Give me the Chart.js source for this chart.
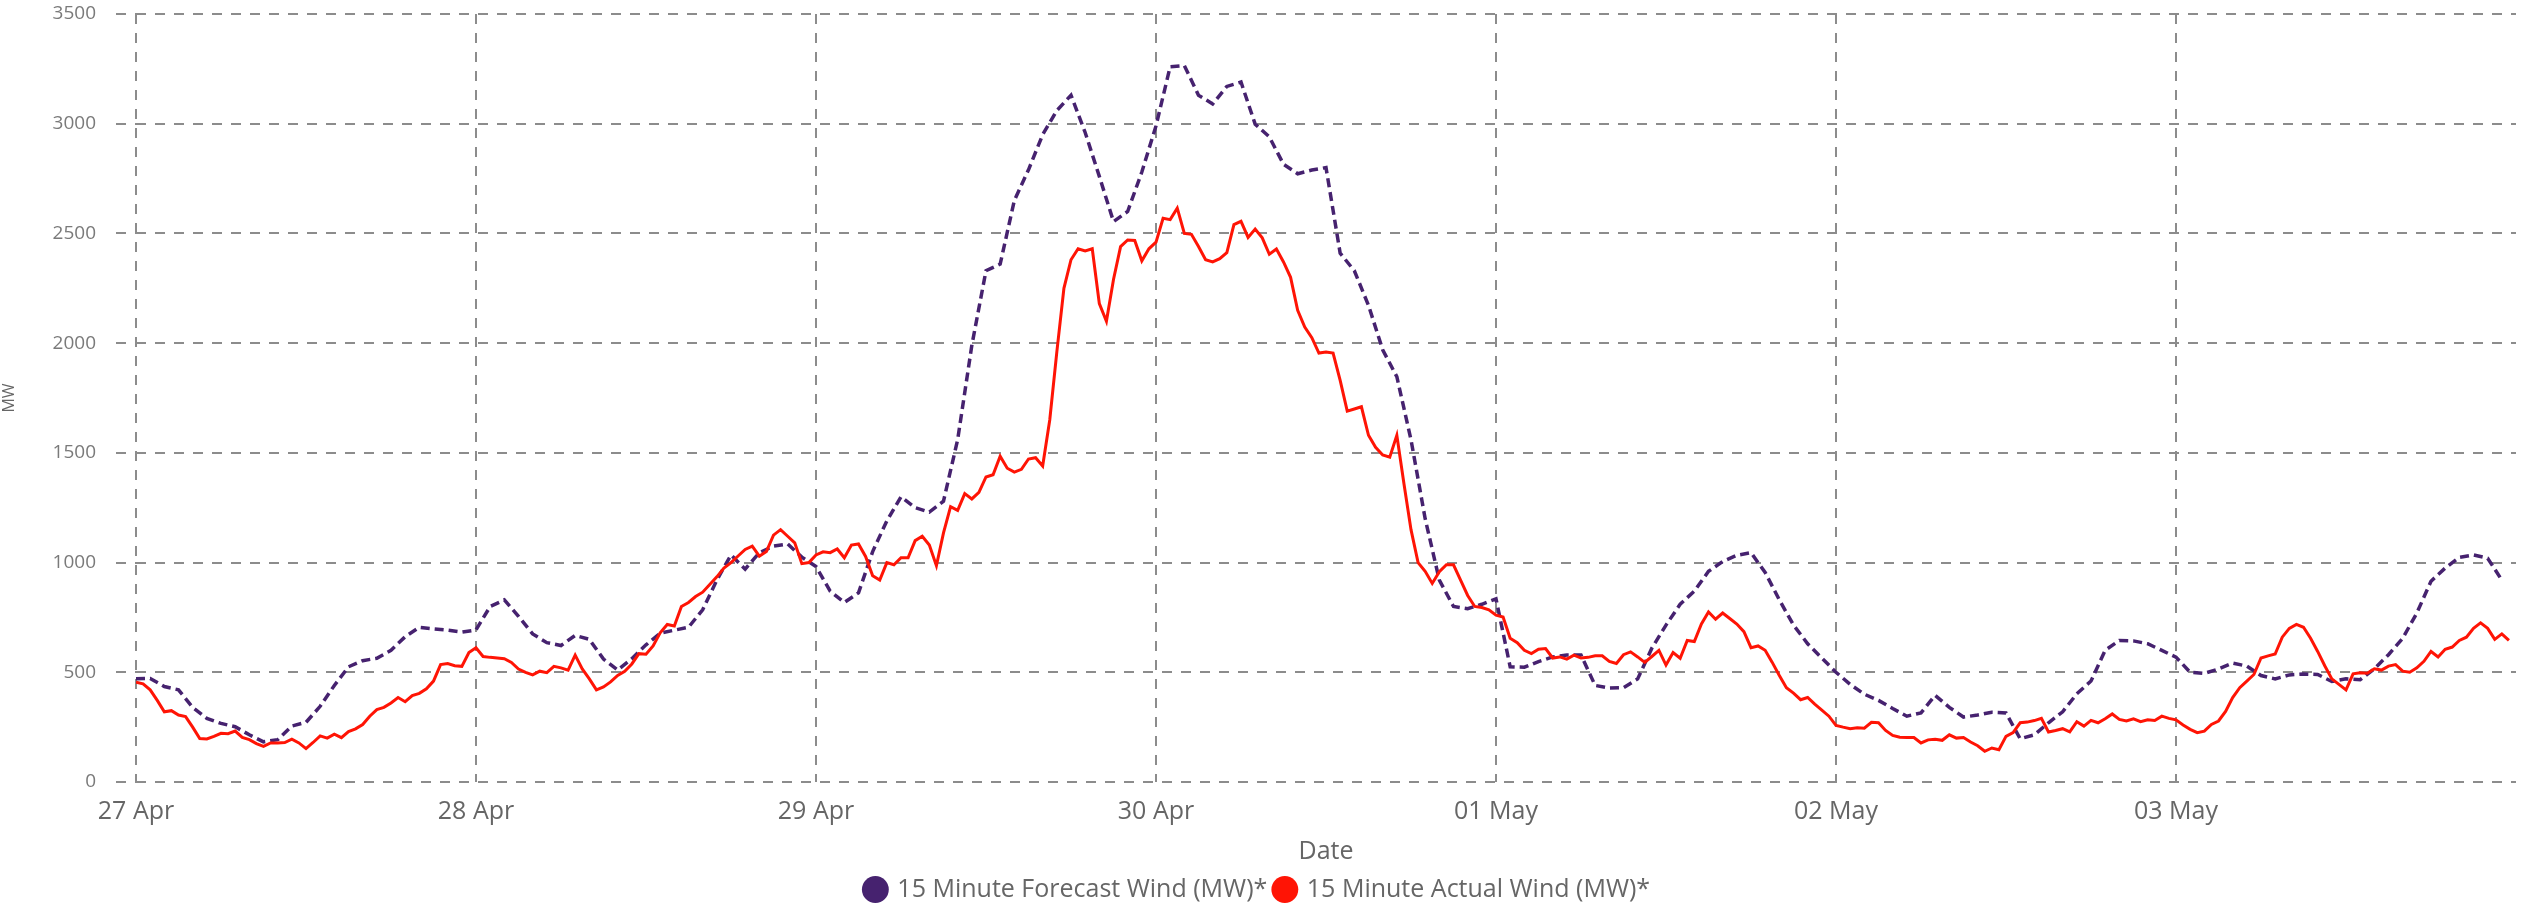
<!DOCTYPE html>
<html>
<head>
<meta charset="utf-8">
<script src="https://cdn.jsdelivr.net/npm/chart.js@4.4.1/dist/chart.umd.min.js"></script>
<style>
  html, body { margin: 0; padding: 0; background: #fff; }
  #wrap { width: 2544px; height: 912px; }
</style>
</head>
<body>
<div id="wrap"><canvas id="chart" width="2544" height="912"></canvas></div>
<script>
// ---------- data ----------
const dayLabels = ['27 Apr', '28 Apr', '29 Apr', '30 Apr', '01 May', '02 May', '03 May'];
const yTickValues = [0, 500, 1000, 1500, 2000, 2500, 3000, 3500];

const forecastStepHours = 1;
const forecastWind = [
    // 27 Apr
    470, 472, 435, 420, 340, 290, 267, 252, 215, 183, 193, 255,
    272, 345, 440, 525, 553, 564, 600, 662, 705, 698, 692, 683,
    // 28 Apr
    693, 800, 830, 755, 675, 635, 622, 668, 650, 560, 510, 562,
    625, 678, 692, 705, 785, 920, 1035, 970, 1045, 1075, 1085, 1025,
    // 29 Apr
    982, 870, 818, 862, 1050, 1190, 1300, 1250, 1230, 1280, 1560, 1990,
    2330, 2360, 2650, 2790, 2950, 3060, 3130, 2960, 2760, 2554, 2600, 2780,
    // 30 Apr
    2990, 3260, 3265, 3130, 3090, 3170, 3190, 2998, 2940, 2815, 2772, 2789,
    2800, 2410, 2330, 2172, 1970, 1847, 1560, 1200, 920, 800, 790, 810,
    // 01 May
    835, 525, 523, 549, 570, 579, 579, 440, 428, 430, 470, 610,
    715, 810, 870, 960, 1005, 1033, 1045, 955, 830, 715, 630, 565,
    // 02 May
    500, 445, 400, 372, 335, 300, 315, 395, 340, 296, 305, 318,
    315, 197, 215, 270, 320, 402, 460, 600, 645, 643, 630, 600,
    // 03 May
    569, 500, 495, 515, 542, 528, 485, 470, 488, 492, 490, 458,
    470, 466, 516, 580, 655, 770, 915, 975, 1024, 1035, 1020, 920
];

const actualStepHours = 0.5;
const actualWind = [
    // 27 Apr
    455, 447, 420, 372, 320, 325, 305, 298, 250, 198, 196, 208,
    222, 220, 232, 203, 193, 175, 162, 178, 178, 180, 195, 178,
    152, 180, 210, 200, 218, 202, 230, 242, 262, 300, 330, 340,
    360, 385, 366, 394, 404, 425, 460, 535, 540, 530, 527, 590,
    // 28 Apr
    612, 572, 568, 565, 562, 545, 515, 500, 488, 505, 498, 527,
    520, 510, 578, 515, 470, 420, 433, 456, 486, 505, 538, 585,
    582, 620, 680, 718, 711, 800, 818, 845, 865, 900, 935, 975,
    1000, 1030, 1060, 1075, 1029, 1050, 1125, 1150, 1120, 1090, 995, 1000,
    // 29 Apr
    1035, 1049, 1045, 1062, 1022, 1080, 1085, 1028, 940, 920, 1000, 990,
    1022, 1022, 1100, 1120, 1080, 986, 1135, 1255, 1238, 1314, 1290, 1320,
    1390, 1400, 1485, 1430, 1412, 1425, 1472, 1478, 1440, 1650, 1960, 2250,
    2380, 2430, 2420, 2430, 2180, 2100, 2290, 2440, 2470, 2468, 2375, 2430,
    // 30 Apr
    2460, 2569, 2563, 2615, 2500, 2496, 2440, 2380, 2370, 2385, 2412, 2540,
    2555, 2482, 2520, 2480, 2405, 2429, 2370, 2300, 2150, 2073, 2025, 1955,
    1960, 1955, 1830, 1690, 1700, 1710, 1580, 1525, 1490, 1480, 1580, 1360,
    1150, 1000, 960, 905, 958, 990, 990, 920, 850, 800, 795, 785,
    // 01 May
    760, 752, 655, 635, 600, 585, 605, 608, 565, 570, 560, 578,
    565, 568, 575, 575, 550, 540, 580, 593, 570, 545, 572, 600,
    533, 590, 564, 645, 640, 720, 775, 742, 770, 745, 720, 685,
    612, 620, 600, 545, 485, 430, 405, 375, 385, 355, 328, 300,
    // 02 May
    258, 250, 243, 247, 245, 272, 270, 235, 212, 204, 203, 203,
    178, 192, 195, 190, 215, 200, 203, 182, 165, 140, 155, 147,
    208, 225, 270, 273, 280, 290, 228, 235, 243, 228, 275, 255,
    281, 270, 288, 310, 285, 278, 288, 275, 284, 280, 300, 290,
    // 03 May
    283, 260, 240, 225, 232, 262, 278, 322, 385, 430, 460, 490,
    565, 575, 583, 660, 700, 718, 705, 655, 595, 530, 470, 445,
    420, 493, 498, 496, 516, 510, 528, 535, 505, 500, 520, 550,
    595, 570, 605, 615, 645, 660, 700, 725, 700, 650, 675, 645
];

// ---------- style ----------
const PURPLE   = '#46226f';
const RED      = '#ff1405';
const GRID     = '#8c8c8c';
const TEXT     = '#666666';
const GRIDDASH = [10, 9];

Chart.defaults.font.family = "'Segoe UI', 'Open Sans', sans-serif";
Chart.defaults.color = TEXT;

function toPoints(arr, step) {
    return arr.map((v, i) => ({ x: i * step, y: v }));
}

// ---------- chart ----------
const ctx = document.getElementById('chart').getContext('2d');

const chart = new Chart(ctx, {
    type: 'line',
    data: {
        datasets: [
            {
                label: '15 Minute Forecast Wind (MW)*',
                data: toPoints(forecastWind, forecastStepHours),
                borderColor: PURPLE,
                backgroundColor: PURPLE,
                borderWidth: 3.5,
                borderDash: [9, 5],
                pointRadius: 0,
                tension: 0,
                order: 2
            },
            {
                label: '15 Minute Actual Wind (MW)*',
                data: toPoints(actualWind, actualStepHours),
                borderColor: RED,
                backgroundColor: RED,
                borderWidth: 3,
                pointRadius: 0,
                tension: 0,
                order: 1
            }
        ]
    },
    options: {
        responsive: false,
        devicePixelRatio: 1,
        animation: false,
        layout: { padding: { left: 0, right: 28, top: 14, bottom: 0 } },
        plugins: {
            tooltip: { enabled: false },
            legend: {
                position: 'bottom',
                labels: {
                    usePointStyle: true,
                    pointStyle: 'circle',
                    boxWidth: 19,
                    boxHeight: 19,
                    padding: 8,
                    color: TEXT,
                    font: { size: 25 },
                    sort: (a, b) => a.datasetIndex - b.datasetIndex,
                    generateLabels(c) {
                        const items = Chart.defaults.plugins.legend.labels.generateLabels(c);
                        items.forEach(it => {
                            it.lineDash = [];
                            it.lineWidth = 0;
                            it.strokeStyle = it.fillStyle;
                        });
                        return items;
                    }
                }
            }
        },
        scales: {
            x: {
                type: 'linear',
                min: 0, max: 168,
                afterBuildTicks: s => { s.ticks = dayLabels.map((d, i) => ({ value: i * 24 })); },
                afterFit: s => { s.height = 87; s.paddingLeft = 0; s.paddingRight = 0; },
                grid: { color: GRID, lineWidth: 2, drawTicks: false },
                border: { display: false, dash: GRIDDASH },
                ticks: {
                    color: TEXT,
                    font: { size: 25 },
                    padding: 15,
                    maxRotation: 0,
                    autoSkip: false,
                    callback: v => dayLabels[Math.round(v / 24)]
                },
                title: {
                    display: true, text: 'Date', color: TEXT,
                    font: { size: 25 }, padding: { top: 0, bottom: 2 }
                }
            },
            y: {
                min: 0, max: 3500,
                afterBuildTicks: s => { s.ticks = yTickValues.map(v => ({ value: v })); },
                afterFit: s => { s.width = 136; s.paddingTop = 0; s.paddingBottom = 0; },
                grid: {
                    color: GRID, lineWidth: 2,
                    drawTicks: true, tickLength: 20,
                    tickColor: GRID, tickWidth: 2, tickBorderDash: GRIDDASH
                },
                border: { display: false, dash: GRIDDASH },
                ticks: {
                    color: '#7a7a7a', font: { size: 19 }, padding: 20,
                    callback: v => String(v)
                },
                title: {
                    display: true, text: 'MW', color: TEXT,
                    font: { size: 16 }, padding: { top: 0, bottom: 0 }
                }
            }
        }
    }
});
</script>
</body>
</html>
